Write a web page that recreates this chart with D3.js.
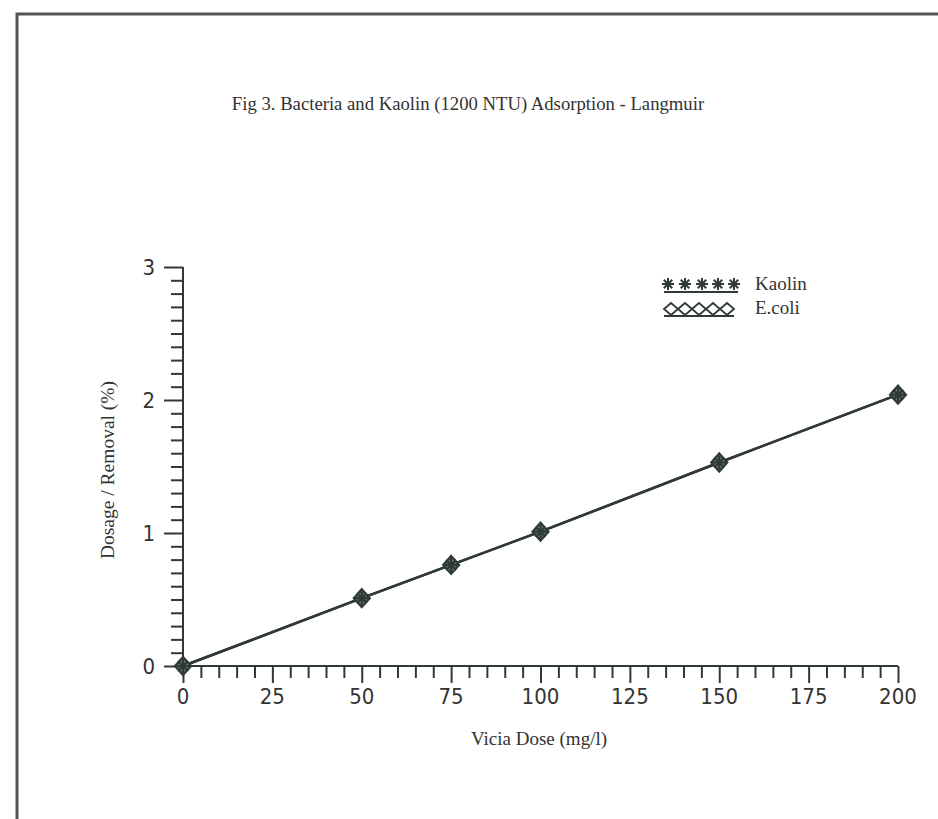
<!DOCTYPE html>
<html><head><meta charset="utf-8">
<script src="https://cdn.jsdelivr.net/npm/d3@7"></script>
<style>
html,body{margin:0;padding:0;background:#fff;}
svg{display:block;}
</style></head>
<body>
<svg id="c" width="938" height="819"></svg>
<script>
const doses = [0, 50, 75, 100, 150, 200];
const kaolin = [0, 0.51, 0.76, 1.01, 1.53, 2.04];
const ecoli = [0, 0.51, 0.76, 1.01, 1.53, 2.04];
const xTickLabels = [0, 25, 50, 75, 100, 125, 150, 175, 200];
const yTickLabels = [0, 1, 2, 3];
const seriesNames = ["Kaolin", "E.coli"];
const titleText = "Fig 3. Bacteria and Kaolin (1200 NTU) Adsorption - Langmuir";
const xTitle = "Vicia Dose (mg/l)";
const yTitle = "Dosage / Removal (%)";

const ink = "#2f3a35";
const svg = d3.select("#c");

// scanned page frame
svg.append("path").attr("d", "M17,819 L17,14 L938,14")
  .attr("fill", "none").attr("stroke", "#555").attr("stroke-width", 3);

const x = d3.scaleLinear().domain([0, 200]).range([183, 898]);
const y = d3.scaleLinear().domain([0, 3]).range([666, 267]);

const tickFont = "'DejaVu Sans Condensed','DejaVu Sans',sans-serif";
const serif = "'Liberation Serif','Times New Roman',serif";

// title
svg.append("text").attr("x", 468).attr("y", 110).attr("text-anchor", "middle")
  .attr("font-family", serif).attr("font-size", 18.7).attr("fill", "#333").text(titleText);

// x axis
const xAxisG = svg.append("g").attr("transform", `translate(0,${y(0)})`);
xAxisG.call(d3.axisBottom(x).tickValues(d3.range(0, 201, 5)).tickSize(12).tickFormat(""));
xAxisG.selectAll(".tick line").attr("y2", d => d % 25 === 0 ? 17 : 12);
xAxisG.select(".domain").attr("d", `M${x(0)},0H${x(200)}`);
xAxisG.selectAll("line,path").attr("stroke", ink).attr("stroke-width", 2);
svg.append("g").selectAll("text").data(xTickLabels).join("text")
  .attr("x", d => x(d)).attr("y", 704).attr("text-anchor", "middle")
  .attr("font-family", tickFont).attr("font-size", 22).attr("fill", "#333")
  .text(d => d);

// y axis
const yAxisG = svg.append("g").attr("transform", `translate(${x(0)},0)`);
yAxisG.call(d3.axisLeft(y).tickValues(d3.range(0, 31).map(i => i / 10)).tickSize(12).tickFormat(""));
yAxisG.selectAll(".tick line").attr("x2", (d, i) => i % 10 === 0 ? -19 : -12);
yAxisG.select(".domain").attr("d", `M0,${y(0)}V${y(3)}`);
yAxisG.selectAll("line,path").attr("stroke", ink).attr("stroke-width", 2);
svg.append("g").selectAll("text").data(yTickLabels).join("text")
  .attr("x", 155).attr("y", d => y(d) + 8).attr("text-anchor", "end")
  .attr("font-family", tickFont).attr("font-size", 22).attr("fill", "#333")
  .text(d => d);

// axis titles
svg.append("text").attr("x", 539).attr("y", 745).attr("text-anchor", "middle")
  .attr("font-family", serif).attr("font-size", 19).attr("fill", "#333").text(xTitle);
svg.append("text").attr("transform", "translate(114,470) rotate(-90)").attr("text-anchor", "middle")
  .attr("font-family", serif).attr("font-size", 19.5).attr("fill", "#333").text(yTitle);

// marker helpers
function asterisk(g, cx, cy, r, sw) {
  const p = [];
  for (let k = 0; k < 4; k++) {
    const a = k * Math.PI / 4;
    p.push(`M${cx - r * Math.cos(a)},${cy - r * Math.sin(a)}L${cx + r * Math.cos(a)},${cy + r * Math.sin(a)}`);
  }
  g.append("path").attr("d", p.join("")).attr("stroke", ink).attr("stroke-width", sw).attr("fill", "none");
}
function diamond(g, cx, cy, w, h, sw, fill) {
  g.append("path").attr("d", `M${cx - w},${cy}L${cx},${cy - h}L${cx + w},${cy}L${cx},${cy + h}Z`)
    .attr("stroke", ink).attr("stroke-width", sw).attr("fill", fill);
}

// lines
const line = d3.line().x((d, i) => x(doses[i])).y(d => y(d));
svg.append("path").datum(ecoli).attr("d", line).attr("fill", "none").attr("stroke", ink).attr("stroke-width", 2.5);
svg.append("path").datum(kaolin).attr("d", line).attr("fill", "none").attr("stroke", ink).attr("stroke-width", 2.5);

// markers
const mk = svg.append("g");
ecoli.forEach((v, i) => diamond(mk, x(doses[i]), y(v), 8, 9, 2.2, "#6d7a72"));
kaolin.forEach((v, i) => asterisk(mk, x(doses[i]), y(kaolin[i]), 7, 2.2));

// legend
const lg = svg.append("g");
const kx = [668, 685, 702, 718, 734];
lg.append("line").attr("x1", 664).attr("x2", 738).attr("y1", 292).attr("y2", 292).attr("stroke", ink).attr("stroke-width", 2);
kx.forEach(cx => asterisk(lg, cx, 284, 6, 2));
const ex = [671, 685, 699, 713, 727];
lg.append("line").attr("x1", 664).attr("x2", 734).attr("y1", 316).attr("y2", 316).attr("stroke", ink).attr("stroke-width", 2);
ex.forEach(cx => diamond(lg, cx, 309, 7, 6, 1.8, "none"));
lg.append("text").attr("x", 755).attr("y", 290).attr("font-family", serif).attr("font-size", 19).attr("fill", "#333").text(seriesNames[0]);
lg.append("text").attr("x", 755).attr("y", 314).attr("font-family", serif).attr("font-size", 19).attr("fill", "#333").text(seriesNames[1]);
</script>
</body></html>
